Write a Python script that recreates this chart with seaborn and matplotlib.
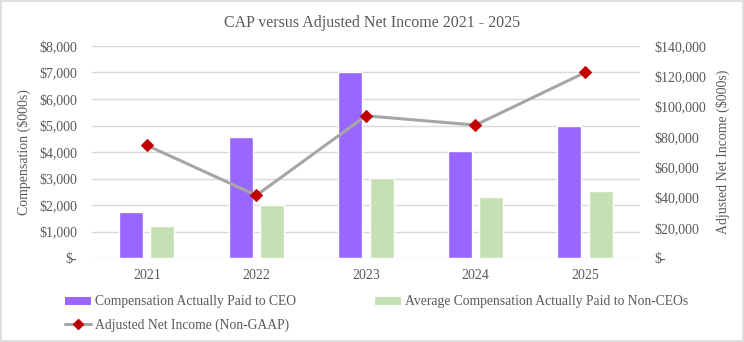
import matplotlib
matplotlib.use("Agg")
import matplotlib.pyplot as plt
import matplotlib.ticker as mticker
from matplotlib.patches import Rectangle
import seaborn as sns
import pandas as pd

years = ["2021", "2022", "2023", "2024", "2025"]
ceo_cap = [1720, 4550, 7000, 4040, 4980]
non_ceo_cap = [1190, 2000, 3010, 2300, 2530]
net_income = [74400, 41400, 93900, 87800, 122500]

series_ceo = "Compensation Actually Paid to CEO"
series_non_ceo = "Average Compensation Actually Paid to Non-CEOs"
series_income = "Adjusted Net Income (Non-GAAP)"

sns.set_theme(style="white")
plt.rcParams["font.family"] = ["Liberation Serif", "DejaVu Serif"]

text_grey = "#595959"
grid_grey = "#D9D9D9"
purple = "#9966FF"
green = "#C5E0B4"
line_grey = "#A6A6A6"
marker_red = "#C00000"

bars = pd.DataFrame({
    "year": years * 2,
    "value": ceo_cap + non_ceo_cap,
    "series": [series_ceo] * len(years) + [series_non_ceo] * len(years),
})

fig = plt.figure(figsize=(7.44, 3.42), dpi=100)
ax = fig.add_axes([0.1237, 0.2456, 0.7363, 0.6199])

sns.barplot(data=bars, x="year", y="value", hue="series",
            palette=[purple, green], width=0.57, gap=0.23,
            saturation=1, ax=ax, legend=False)

ax.set_xlim(-0.5, len(years) - 0.5)
ax.set_ylim(0, 8000)
ax.yaxis.set_major_locator(mticker.MultipleLocator(1000))


def dollars(v, _):
    return "$-" if v == 0 else f"${v:,.0f}"


ax.yaxis.set_major_formatter(mticker.FuncFormatter(dollars))
ax.grid(axis="y", color=grid_grey, linewidth=1)
ax.set_axisbelow(True)
for s in ax.spines.values():
    s.set_visible(False)
ax.tick_params(axis="y", length=0, pad=10.5, labelsize=10, labelcolor=text_grey)
ax.tick_params(axis="x", length=0, pad=8, labelsize=10, labelcolor=text_grey)
ax.set_xlabel("")
ax.set_ylabel("Compensation ($000s)", fontsize=10, color=text_grey, labelpad=6)

ax2 = ax.twinx()
sns.lineplot(x=list(range(len(years))), y=net_income, ax=ax2,
             color=line_grey, linewidth=2.2, marker="D", markersize=6.5,
             markerfacecolor=marker_red, markeredgecolor=marker_red,
             legend=False)
ax2.set_ylim(0, 140000)
ax2.yaxis.set_major_locator(mticker.MultipleLocator(20000))
ax2.yaxis.set_major_formatter(mticker.FuncFormatter(dollars))
ax2.tick_params(axis="y", length=0, pad=10.5, labelsize=10, labelcolor=text_grey)
for s in ax2.spines.values():
    s.set_visible(False)
ax2.set_ylabel("Adjusted Net Income ($000s)", fontsize=10, color=text_grey,
               labelpad=7)
ax2.grid(False)

fig.text(0.5, 0.934, "CAP versus Adjusted Net Income 2021 - 2025",
         ha="center", va="center", fontsize=11.5, color=text_grey)

handles = [
    Rectangle((0, 0), 1, 1, facecolor=purple, edgecolor="none"),
    plt.Line2D([], [], color=line_grey, linewidth=2.2, marker="D",
               markersize=5, markerfacecolor=marker_red,
               markeredgecolor=marker_red),
    Rectangle((0, 0), 1, 1, facecolor=green, edgecolor="none"),
]
labels = [series_ceo, series_income, series_non_ceo]
leg = fig.legend(handles, labels, ncol=2, loc="upper left",
                 bbox_to_anchor=(0.088, 0.136), frameon=False,
                 fontsize=9.8, handlelength=1.85, handleheight=0.5,
                 handletextpad=0.3, columnspacing=5.85, labelspacing=0.72,
                 borderaxespad=0, borderpad=0)
for t in leg.get_texts():
    t.set_color(text_grey)

fig.patches.append(Rectangle((0.001, 0.002), 0.997, 0.995,
                             transform=fig.transFigure, fill=False,
                             edgecolor="#D9D9D9", linewidth=1.2))

fig.savefig("out.png", dpi=100)
